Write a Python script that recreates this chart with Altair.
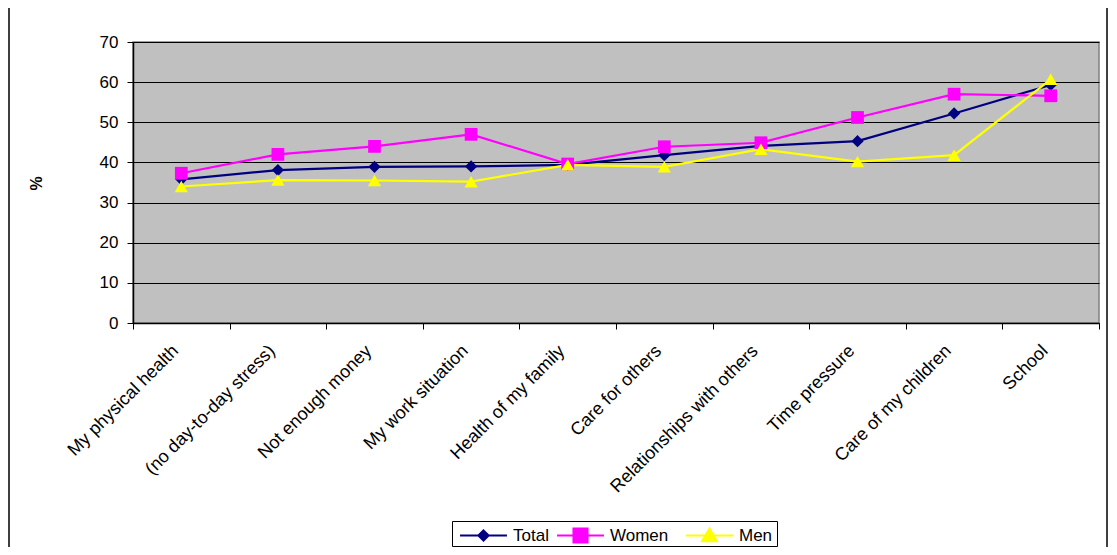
import altair as alt
import pandas as pd

categories = [
    "My physical health",
    "(no day-to-day stress)",
    "Not enough money",
    "My work situation",
    "Health of my family",
    "Care for others",
    "Relationships with others",
    "Time pressure",
    "Care of my children",
    "School",
]
total = [35.8, 38.1, 38.9, 39.0, 39.4, 41.8, 44.1, 45.3, 52.2, 59.3]
women = [37.3, 42.0, 44.0, 47.0, 39.6, 43.9, 44.9, 51.2, 57.0, 56.6]
men = [34.0, 35.6, 35.5, 35.2, 39.4, 38.9, 43.3, 40.2, 41.8, 60.7]
series_names = ["Total", "Women", "Men"]
series_colors = ["#000080", "#FF00FF", "#FFFF00"]
series_shapes = ["diamond", "square", "triangle-up"]
y_ticks = [0, 10, 20, 30, 40, 50, 60, 70]

rows = []
for name, vals in zip(series_names, [total, women, men]):
    for c, v in zip(categories, vals):
        rows.append({"category": c, "series": name, "value": v})
df = pd.DataFrame(rows)

FONT = "Liberation Sans"

x_enc = alt.X(
    "category:N",
    sort=categories,
    bandPosition=0.5,
    scale=alt.Scale(type="band", paddingInner=0, paddingOuter=0),
    axis=alt.Axis(
        title=None,
        labelAngle=-45,
        labelAlign="right",
        labelBaseline="middle",
        labelFontSize=18,
        labelColor="black",
        labelPadding=19,
        labelOffset=-6,
        tickBand="extent",
        tickSize=6,
        tickColor="black",
        domainColor="black",
        domainWidth=1.5,
        grid=False,
        labelLimit=400,
    ),
)
y_enc = alt.Y(
    "value:Q",
    scale=alt.Scale(domain=[0, 70], nice=False),
    axis=alt.Axis(
        title="%",
        values=y_ticks,
        titleFontSize=16,
        titleFontWeight="bold",
        titleColor="black",
        titleX=-89,
        titleY=141,
        titleAngle=-90,
        labelFontSize=17,
        labelColor="black",
        labelPadding=9,
        tickSize=6,
        tickColor="black",
        domainColor="black",
        domainWidth=1.5,
        grid=True,
        gridColor="black",
        gridWidth=1,
    ),
)

base = alt.Chart(df)

# legend symbol paths: a line with the series marker in the middle
legend_paths = [
    "M-1,0L1,0M0,-0.22L0.22,0L0,0.22L-0.22,0Z",
    "M-1,0L1,0M-0.3,-0.3L0.3,-0.3L0.3,0.3L-0.3,0.3Z",
    "M-1,0L1,0M0,-0.3L0.32,0.25L-0.32,0.25Z",
]
legend_x = [326, 423, 552]

line_layers = []
for name, col, path, lx in zip(series_names, series_colors, legend_paths, legend_x):
    lg = alt.Legend(
        title=None,
        orient="none",
        legendX=lx,
        legendY=469,
        padding=0,
        labelFontSize=17,
        labelColor="black",
        labelFont=FONT,
        labelOffset=5,
        symbolType=path,
        symbolSize=2200,
        symbolFillColor=col,
        symbolStrokeColor=col,
        symbolStrokeWidth=2,
        symbolOpacity=1,
    )
    ln = (
        base.transform_filter(alt.datum.series == name)
        .mark_line(strokeWidth=2.2, color=col)
        .encode(
            x=x_enc,
            y=y_enc,
            opacity=alt.Opacity(
                "series:N",
                scale=alt.Scale(domain=[name], range=[1]),
                legend=lg,
            ),
        )
    )
    line_layers.append(ln)

points = base.mark_point(filled=True, opacity=1).encode(
    x=x_enc,
    y=y_enc,
    color=alt.Color(
        "series:N",
        scale=alt.Scale(domain=series_names, range=series_colors),
        legend=None,
    ),
    shape=alt.Shape(
        "series:N",
        scale=alt.Scale(domain=series_names, range=series_shapes),
        legend=None,
    ),
    size=alt.Size(
        "series:N",
        scale=alt.Scale(domain=series_names, range=[150, 175, 170]),
        legend=None,
    ),
)

legend_box = alt.Chart(pd.DataFrame({"k": [0]})).mark_rect(
    fill="transparent", stroke="black", strokeWidth=1, clip=False
).encode(
    x=alt.value(319.5),
    x2=alt.value(644.5),
    y=alt.value(479.5),
    y2=alt.value(504.5),
)

frame = alt.Chart(pd.DataFrame({"k": [0]})).mark_rect(
    fill="transparent", stroke="black", strokeWidth=1.5, clip=False
).encode(
    x=alt.value(-124),
    x2=alt.value(974),
    y=alt.value(-40),
    y2=alt.value(510),
)

chart = (
    alt.layer(*line_layers, points, legend_box, frame)
    .resolve_scale(opacity="independent")
    .properties(
        width=966,
        height=281,
        padding={"left": 125, "top": 34, "right": 10, "bottom": 224},
        autosize=alt.AutoSizeParams(type="none"),
        background="white",
    )
    .configure(font=FONT)
    .configure_view(fill="#C0C0C0", stroke="#808080", strokeWidth=1.5)
)

chart.save("out.html", embed_options={"renderer": "svg", "actions": False})
